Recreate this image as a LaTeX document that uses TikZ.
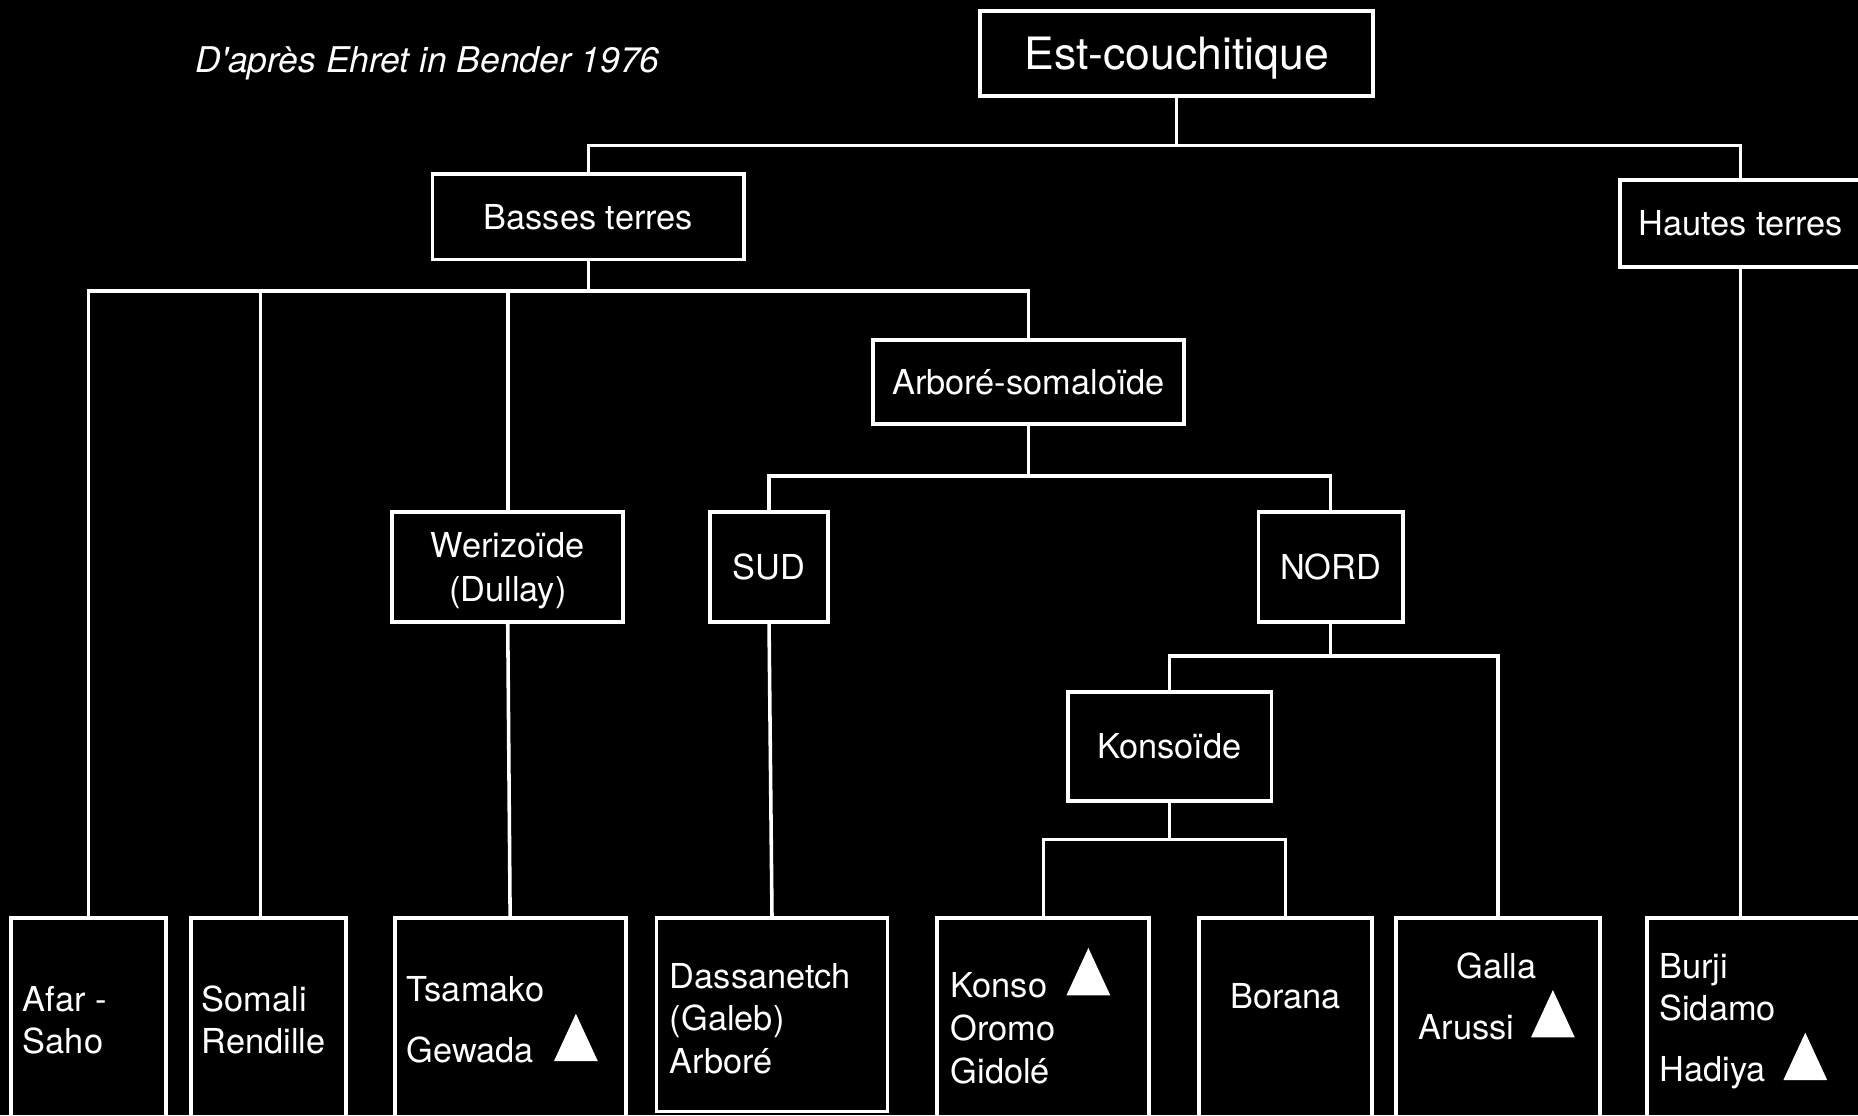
\documentclass[tikz,border=0pt]{standalone}
\usepackage{fontspec}
\setmainfont{TeX Gyre Heros}
\newcommand{\boxfont}{\fontsize{16.5}{21}\selectfont}

\begin{document}
\begin{tikzpicture}[x=0.2mm, y=-0.2mm,
    box/.style={draw=white, line width=0.65mm, text=white, font=\boxfont, align=center, inner sep=0pt},
    link/.style={draw=white, line width=0.6mm},
    txt/.style={text=white, font=\boxfont, inner sep=0pt, anchor=base west},
    peak/.pic={\fill[white] (-18.5,20) -- (0,-20) -- (18.5,20) -- cycle;}]

    % Background
    \useasboundingbox (0,0) rectangle (1568,941);
    \fill[black] (0,0) rectangle (1568,941);
    \clip (0,0) rectangle (1568,941);

    % Source
    \node[text=white, inner sep=0pt, anchor=base, font=\fontsize{17}{20}\selectfont\itshape] (source) at (361,61) {D\textquotesingle après Ehret in Bender 1976};

    % Upper levels
    \node[box, minimum width=66.4mm, minimum height=14.4mm, text depth=0pt, font=\fontsize{21.4}{24}\selectfont] (est) at (993,45) {Est-couchitique};
    \node[box, minimum width=52.6mm, minimum height=14.4mm] (basses) at (496.5,183) {Basses terres};
    \node[box, minimum width=40.8mm, minimum height=14.6mm] (hautes) at (1469,188.5) {Hautes terres};
    \node[box, minimum width=52.4mm, minimum height=14.2mm] (arbore) at (868,322.5) {Arboré-somaloïde};
    \node[box, minimum width=39mm, minimum height=18.6mm, text depth=0pt] (weriz) at (428.5,478.5) {Werizoïde\\(Dullay)};
    \node[box, minimum width=20mm, minimum height=18.6mm] (sud) at (649,478.5) {SUD};
    \node[box, minimum width=24.4mm, minimum height=18.6mm] (nord) at (1123,478.5) {NORD};
    \node[box, minimum width=34.4mm, minimum height=18.4mm] (konsoide) at (987,630) {Konsoïde};

    % Languages
    \node[box, minimum width=26.2mm, minimum height=37mm] (afar) at (74.5,867.5) {};
    \node[box, minimum width=26.2mm, minimum height=37mm] (somali) at (226.5,867.5) {};
    \node[box, minimum width=39mm, minimum height=37mm] (tsamako) at (430.5,867.5) {};
    \node[box, minimum width=39mm, minimum height=32.6mm] (dass) at (651.5,856.5) {};
    \node[box, minimum width=35.8mm, minimum height=37mm] (konso) at (880.5,867.5) {};
    \node[box, minimum width=29.2mm, minimum height=37mm] (borana) at (1085,867.5) {};
    \node[box, minimum width=34.4mm, minimum height=37mm] (galla) at (1264,867.5) {};
    \node[box, minimum width=38mm, minimum height=37mm] (burji) at (1485,867.5) {};

    \node[txt] (afar-1) at (19,854) {Afar -};
    \node[txt] (afar-2) at (19,889) {Saho};
    \node[txt] (somali-1) at (170,854) {Somali};
    \node[txt] (somali-2) at (170,889) {Rendille};
    \node[txt] (tsamako-1) at (343,845) {Tsamako};
    \node[txt] (tsamako-2) at (343,897) {Gewada};
    \node[txt] (dass-1) at (565,834) {Dassanetch};
    \node[txt] (dass-2) at (565,870) {(Galeb)};
    \node[txt] (dass-3) at (565,906) {Arboré};
    \node[txt] (konso-1) at (802,842) {Konso};
    \node[txt] (konso-2) at (802,878) {Oromo};
    \node[txt] (konso-3) at (802,914) {Gidolé};
    \node[txt, anchor=base] (borana-1) at (1085,851) {Borana};
    \node[txt, anchor=base] (galla-1) at (1263,826) {Galla};
    \node[txt] (galla-2) at (1197,877) {Arussi};
    \node[txt] (burji-1) at (1400,826) {Burji};
    \node[txt] (burji-2) at (1400,861) {Sidamo};
    \node[txt] (burji-3) at (1400,913) {Hadiya};

    % Triangles
    \pic at (486,875.5) {peak};
    \pic at (918.5,820) {peak};
    \pic at (1310.5,855.5) {peak};
    \pic at (1523.5,891.5) {peak};

    % Links
    \draw[link] (est.south) -- ++(0,40) coordinate (j0);
    \draw[link] (j0) -| (basses.north);
    \draw[link] (j0) -| (hautes.north);
    \draw[link] (hautes.south) -- (hautes.south |- burji.north);

    \draw[link] (basses.south) -- ++(0,25) coordinate (j1);
    \draw[link] (j1) -| (afar.north);
    \draw[link] (j1) -| ([xshift=-1.3mm]somali.north);
    \draw[link] (j1) -| (weriz.north);
    \draw[link] (j1) -| (arbore.north);
    \draw[link] (weriz.south) -- (tsamako.north);

    \draw[link] (arbore.south) -- ++(0,42) coordinate (j2);
    \draw[link] (j2) -| (sud.north);
    \draw[link] (j2) -| (nord.north);
    \draw[link] (sud.south) -- (dass.north);

    \draw[link] (nord.south) -- ++(0,27) coordinate (j3);
    \draw[link] (j3) -| (konsoide.north);
    \draw[link] (j3) -| (galla.north);

    \draw[link] (konsoide.south) -- ++(0,31) coordinate (j4);
    \draw[link] (j4) -| (konso.north);
    \draw[link] (j4) -| (borana.north);
\end{tikzpicture}
\end{document}
